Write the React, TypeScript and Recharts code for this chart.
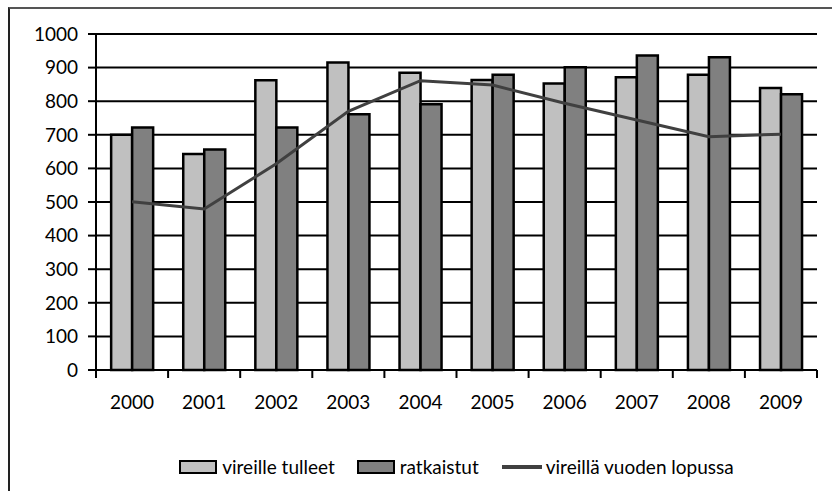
import React from "react";
import { Bar, CartesianGrid, ComposedChart, Legend, Line, XAxis, YAxis } from "recharts";

const years = ["2000", "2001", "2002", "2003", "2004", "2005", "2006", "2007", "2008", "2009"];
const vireilleTulleet = [700, 643, 862, 915, 885, 863, 853, 871, 879, 839];
const ratkaistut = [722, 656, 722, 761, 791, 879, 901, 936, 931, 821];
const vireillaLopussa = [501, 479, 614, 770, 861, 848, 794, 744, 694, 702];
const yTicks = [0, 100, 200, 300, 400, 500, 600, 700, 800, 900, 1000];
const seriesNames = ["vireille tulleet", "ratkaistut", "vireillä vuoden lopussa"];

const data = years.map((year, i) => ({
  year,
  tulleet: vireilleTulleet[i],
  ratkaistut: ratkaistut[i],
  lopussa: vireillaLopussa[i],
}));

const FONT = "Lato, 'Open Sans', sans-serif";
const TICK_SIZE = 8;
const TICK_MARGIN = 18;

const YearTick = (props: any) => {
  const { x, y, payload, index, width, visibleTicksCount } = props;
  const half = payload?.offset || width / visibleTicksCount / 2;
  const axisY = y - TICK_SIZE - TICK_MARGIN;
  return (
    <g>
      <line x1={x - half} x2={x - half} y1={axisY} y2={axisY + TICK_SIZE} stroke="#000" strokeWidth={2} />
      {index === visibleTicksCount - 1 && (
        <line x1={x + half} x2={x + half} y1={axisY} y2={axisY + TICK_SIZE} stroke="#000" strokeWidth={2} />
      )}
      <text x={x} y={y} dy="0.71em" textAnchor="middle" fill="#000" fontSize={19} fontFamily={FONT}>
        {payload.value}
      </text>
    </g>
  );
};

// keep the original order of the series in the legend
const LegendContent = ({ payload }: any) => {
  const items = seriesNames
    .map((name) => (payload || []).find((p: any) => p.value === name))
    .filter(Boolean);
  return (
    <div style={{ display: "flex", justifyContent: "center", alignItems: "center", fontFamily: FONT, fontSize: 19, color: "#000" }}>
      {items.map((item: any, i: number) => (
        <div key={i} style={{ display: "flex", alignItems: "center", marginRight: i < 2 ? 22 : 0 }}>
          {item.type === "line" ? (
            <svg width={42} height={12} style={{ marginRight: 3 }}>
              <line x1={1} x2={41} y1={6} y2={6} stroke={item.color} strokeWidth={4} />
            </svg>
          ) : (
            <svg width={38} height={14} style={{ marginRight: 5 }}>
              <rect x={1} y={1} width={36} height={12} fill={item.color} stroke="#000" strokeWidth={2} />
            </svg>
          )}
          <span>{item.value}</span>
        </div>
      ))}
    </div>
  );
};

export default function App() {
  return (
    <div style={{ position: "absolute", left: 0, top: 0, width: 832, height: 491, background: "#fff", overflow: "hidden" }}>
      <div
        style={{
          position: "absolute",
          left: 8,
          top: 7,
          width: 840,
          height: 500,
          borderTop: "2px solid #555",
          borderLeft: "2px solid #222",
        }}
      />
      <ComposedChart
        width={832}
        height={491}
        data={data}
        margin={{ top: 34, right: 15, left: 0, bottom: 81 }}
        barCategoryGap="21%"
        barGap={0}
        style={{ position: "absolute", left: 0, top: 0 }}
      >
        <CartesianGrid vertical={false} stroke="#000" strokeWidth={2} />
        <XAxis xAxisId="top" orientation="top" dataKey="year" height={0} tick={false} tickLine={false} axisLine={{ stroke: "#8c8c8c", strokeWidth: 3 }} />
        <YAxis yAxisId="right" orientation="right" width={0} domain={[0, 1000]} tick={false} tickLine={false} axisLine={{ stroke: "#8c8c8c", strokeWidth: 3 }} />
        <XAxis
          dataKey="year"
          height={40}
          tickLine={false}
          tickSize={TICK_SIZE}
          tickMargin={TICK_MARGIN}
          axisLine={{ stroke: "#000", strokeWidth: 2 }}
          tick={<YearTick />}
          interval={0}
        />
        <YAxis
          width={96}
          domain={[0, 1000]}
          ticks={yTicks}
          interval={0}
          tickSize={TICK_SIZE}
          tickMargin={10}
          axisLine={{ stroke: "#000", strokeWidth: 2 }}
          tickLine={{ stroke: "#000", strokeWidth: 2 }}
          tick={{ fill: "#000", fontSize: 19, fontFamily: FONT }}
        />
        <Bar dataKey="tulleet" name={seriesNames[0]} fill="#c0c0c0" stroke="#000" strokeWidth={2.5} isAnimationActive={false} />
        <Bar dataKey="ratkaistut" name={seriesNames[1]} fill="#808080" stroke="#000" strokeWidth={2.5} isAnimationActive={false} />
        <Line dataKey="lopussa" name={seriesNames[2]} type="linear" stroke="#404040" strokeWidth={3} dot={false} legendType="line" isAnimationActive={false} />
        <Legend
          layout="horizontal"
          verticalAlign="middle"
          content={<LegendContent />}
          wrapperStyle={{ position: "absolute", left: 96, width: 721, top: 455 }}
        />
      </ComposedChart>
    </div>
  );
}
